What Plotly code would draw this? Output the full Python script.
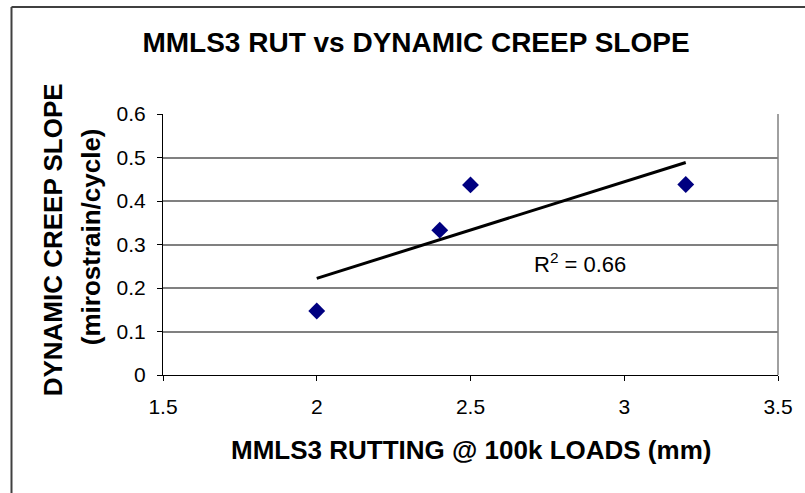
import numpy as np
import plotly.graph_objects as go

# ---- data ----
rut_mm = [2.0, 2.4, 2.5, 3.2]
creep_slope = [0.147, 0.333, 0.437, 0.438]
r2_label = "R<sup>2</sup> = 0.66"

title_text = "MMLS3 RUT vs DYNAMIC CREEP SLOPE"
x_title = "MMLS3 RUTTING @ 100k LOADS (mm)"
y_title_1 = "DYNAMIC CREEP SLOPE"
y_title_2 = "(mirostrain/cycle)"

# linear trendline fitted from the data
slope, intercept = np.polyfit(rut_mm, creep_slope, 1)
trend_x = [min(rut_mm), max(rut_mm)]
trend_y = [slope * v + intercept for v in trend_x]

FONT = "Liberation Sans, Arial, sans-serif"
W, H = 805, 493
L, R, T, B = 163, 25, 114, 118
PW, PH = W - L - R, H - T - B

def px(xp):
    return (xp - L) / PW

def py(yp):
    return (H - B - yp) / PH

fig = go.Figure()
fig.add_trace(go.Scatter(
    x=rut_mm, y=creep_slope, mode="markers",
    marker=dict(symbol="diamond", size=13, color="#000080", line=dict(width=0)),
    showlegend=False, cliponaxis=False,
))
fig.add_trace(go.Scatter(
    x=trend_x, y=trend_y, mode="lines",
    line=dict(color="black", width=3), showlegend=False,
))

fig.update_layout(
    width=W, height=H,
    margin=dict(l=L, r=R, t=T, b=B, pad=0),
    paper_bgcolor="white", plot_bgcolor="white",
    font=dict(family=FONT, color="black"),
    title=dict(text="<b>" + title_text + "</b>", x=416 / W, y=1 - 42 / H,
               xanchor="center", yanchor="middle",
               font=dict(size=28, family=FONT, color="black")),
    xaxis=dict(range=[1.5, 3.5], dtick=0.5, tick0=1.5, showgrid=False,
               zeroline=False, showline=True, linecolor="black", linewidth=1,
               ticks="outside", ticklen=5, tickcolor="black", tickwidth=1,
               tickfont=dict(size=21, family=FONT, color="black"),
               ticklabelstandoff=8),
    yaxis=dict(range=[0, 0.6], dtick=0.1, tick0=0, showgrid=True,
               gridcolor="#808080", gridwidth=1.5,
               zeroline=False, showline=True, linecolor="black", linewidth=1,
               ticks="outside", ticklen=5, tickcolor="black", tickwidth=1,
               tickfont=dict(size=21, family=FONT, color="black"),
               ticklabelstandoff=7),
    shapes=[
        # right plot border
        dict(type="line", xref="paper", yref="paper", x0=1, x1=1, y0=0, y1=1,
             line=dict(color="#808080", width=1.5)),
        # outer chart border (left and top visible)
        dict(type="line", xref="paper", yref="paper", x0=px(11), x1=px(11),
             y0=py(7), y1=py(500), line=dict(color="#404040", width=2)),
        dict(type="line", xref="paper", yref="paper", x0=px(11), x1=px(810),
             y0=py(7), y1=py(7), line=dict(color="#404040", width=2)),
    ],
    annotations=[
        dict(text="<b>" + x_title + "</b>", xref="paper", yref="paper",
             x=px(472), y=py(450), xanchor="center", yanchor="middle",
             showarrow=False, font=dict(size=26, family=FONT, color="black")),
        dict(text="<b>" + y_title_1 + "</b>", xref="paper", yref="paper",
             x=px(53), y=py(240), xanchor="center", yanchor="middle",
             textangle=-90, showarrow=False,
             font=dict(size=26, family=FONT, color="black")),
        dict(text="<b>" + y_title_2 + "</b>", xref="paper", yref="paper",
             x=px(91), y=py(237), xanchor="center", yanchor="middle",
             textangle=-90, showarrow=False,
             font=dict(size=26, family=FONT, color="black")),
        dict(text=r2_label, xref="x", yref="y", x=2.699, y=0.2575,
             xanchor="left", yanchor="middle", showarrow=False,
             font=dict(size=22, family=FONT, color="black")),
    ],
)

fig.write_html("out.html", config={"displayModeBar": False},
               post_script="document.body.style.margin='0';document.body.style.padding='0';")
